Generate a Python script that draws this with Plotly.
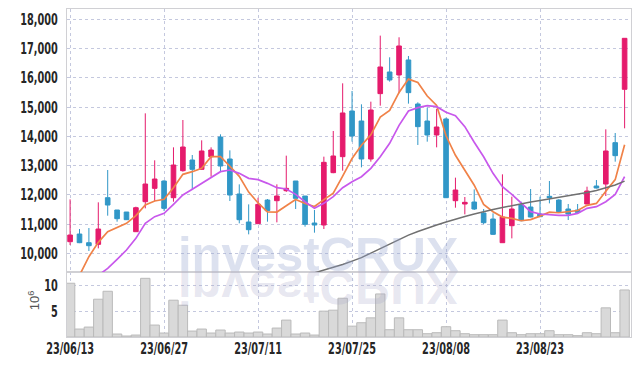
import plotly.graph_objects as go

dates = ["23/06/13", "23/06/14", "23/06/15", "23/06/16", "23/06/19", "23/06/20", "23/06/21", "23/06/22",
         "23/06/23", "23/06/26", "23/06/27", "23/06/28", "23/06/29", "23/06/30", "23/07/03", "23/07/04",
         "23/07/05", "23/07/06", "23/07/07", "23/07/10", "23/07/11", "23/07/12", "23/07/13", "23/07/14",
         "23/07/17", "23/07/18", "23/07/19", "23/07/20", "23/07/21", "23/07/24", "23/07/25", "23/07/26",
         "23/07/27", "23/07/28", "23/07/31", "23/08/01", "23/08/02", "23/08/03", "23/08/04", "23/08/07",
         "23/08/08", "23/08/09", "23/08/10", "23/08/11", "23/08/14", "23/08/16", "23/08/17", "23/08/18",
         "23/08/21", "23/08/22", "23/08/23", "23/08/24", "23/08/25", "23/08/28", "23/08/29", "23/08/30",
         "23/08/31", "23/09/01", "23/09/04", "23/09/05"]

open_ = [10399, 10661, 10365, 10308, 11903, 11482, 11413, 10741, 11766, 12222,
         12473, 11903, 12826, 13191, 12872, 13305, 13977, 13225, 12029, 11071,
         11014, 11823, 11800, 12142, 12473, 11960, 11037, 10969, 12758, 13305,
         14866, 14524, 13225, 15459, 16199, 16097, 16610, 15105, 14524, 14046,
         14593, 11800, 11687, 11755, 11379, 11174, 10365, 10946, 11652, 11584,
         11345, 11950, 11823, 11516, 11482, 11687, 12302, 12370, 13784, 15607]
high = [11846, 10832, 10866, 11744, 12849, 11482, 11413, 11595, 14786, 13180,
        12500, 13624, 14558, 13362, 13863, 13624, 14068, 13521, 12359, 11675,
        11903, 11857, 12359, 13339, 12473, 11960, 11482, 13305, 14182, 15812,
        15550, 15094, 15185, 17442, 16701, 17385, 16746, 15162, 14980, 14935,
        14638, 12587, 11926, 12188, 11516, 11368, 12701, 11937, 11766, 12199,
        11937, 12473, 11850, 11687, 11687, 12279, 12507, 14239, 14114, 17350]
low = [10285, 10350, 10080, 10171, 11288, 11083, 11140, 10741, 11538, 11789,
       11447, 11766, 12792, 12165, 12850, 12621, 12815, 11789, 11026, 10650,
       11014, 11083, 11060, 12100, 11516, 10912, 10707, 10832, 12740, 12826,
       13818, 12940, 13134, 15048, 15869, 15470, 15117, 13704, 13818, 13624,
       11903, 11561, 11333, 11482, 11000, 10630, 10365, 10513, 11100, 11230,
       11240, 11709, 11400, 11140, 11390, 11680, 12220, 11960, 13134, 14274]
close = [10627, 10365, 10262, 10832, 11652, 11185, 11151, 11561, 12370, 12541,
         11538, 13020, 13635, 12872, 13499, 13533, 12986, 11994, 11151, 10809,
         11675, 11459, 11960, 12222, 11880, 10991, 10969, 13111, 13328, 14798,
         14011, 13225, 14900, 16370, 15926, 17088, 15493, 14331, 14046, 14319,
         11903, 12165, 11744, 11516, 11048, 10650, 11242, 11516, 11117, 11242,
         11254, 11900, 11425, 11345, 11402, 12131, 12234, 13499, 13339, 17350]

ma5 = [8900, 9250, 9886, 10376, 10741, 10878, 11026, 11288, 11652, 11789,
       11850, 12245, 12701, 12792, 12906, 13305, 13305, 12977, 12633, 12095,
       11723, 11418, 11411, 11625, 11839, 11702, 11604, 11835, 12056, 12639,
       13243, 13695, 14052, 14661, 14886, 15502, 15955, 15842, 15377, 15055,
       14018, 13353, 12835, 12329, 11675, 11425, 11240, 11194, 11115, 11153,
       11274, 11406, 11388, 11433, 11465, 11641, 11707, 12122, 12521, 13711]
ma10 = [8600, 8800, 9000, 9250, 9487, 9795, 10114, 10513, 11026, 11254,
        11368, 11675, 11994, 12188, 12393, 12587, 12792, 12849, 12735, 12564,
        12519, 12393, 12245, 12199, 12017, 11766, 11538, 11709, 11937, 12245,
        12450, 12621, 12906, 13305, 13761, 14376, 14866, 14980, 15048, 15014,
        14820, 14707, 14331, 13800, 13300, 12735, 12279, 12017, 11709, 11425,
        11345, 11311, 11299, 11299, 11368, 11538, 11595, 11766, 12017, 12621]
ma60 = [None] * 25 + [
        9240, 9330, 9429, 9514, 9617, 9736, 9856, 10010, 10164, 10318,
        10471, 10625, 10745, 10864, 10967, 11070, 11172, 11258, 11343, 11429,
        11497, 11566, 11634, 11702, 11754, 11805, 11856, 11907, 11959, 12010,
        12078, 12147, 12232, 12335, 12471]

volume_m = [10.4, 1.54, 1.92, 7.31, 8.85, 0.58, 0.19, 0.38, 11.35, 2.31,
            0.77, 7.12, 6.15, 1.15, 1.54, 0.77, 1.35, 0.77, 0.96, 0.77,
            0.96, 0.58, 1.73, 3.27, 0.58, 0.77, 0.38, 5.0, 5.19, 7.5,
            2.1, 2.76, 3.7, 8.33, 1.41, 3.7, 1.41, 1.41, 0.64, 0.83,
            1.99, 1.22, 0.64, 0.45, 0.45, 0.45, 3.27, 0.83, 0.45, 0.64,
            0.64, 1.22, 0.45, 0.45, 0.26, 0.83, 0.64, 5.64, 0.83, 9.1]

tick_dates = ["23/06/13", "23/06/27", "23/07/11", "23/07/25", "23/08/08", "23/08/23"]
price_ticks = [10000, 11000, 12000, 13000, 14000, 15000, 16000, 17000, 18000]
volume_ticks = [5, 10]

RED = "rgb(229,27,108)"
BLUE = "rgb(49,151,199)"
ORANGE = "rgb(240,130,72)"
PURPLE = "rgb(200,88,236)"
GRAYLINE = "rgb(112,112,112)"
GRID = "rgb(196,200,222)"
FRAME = "rgb(208,208,212)"
TICKFONT = dict(family="DejaVu Sans, Roboto, sans-serif", size=16, color="#262626", weight="bold")

fig = go.Figure()
fig.add_trace(go.Bar(
    x=dates, y=volume_m, xaxis="x", yaxis="y",
    marker=dict(color="rgb(217,217,217)", line=dict(color="rgb(186,186,186)", width=1)),
    hoverinfo="skip"))
fig.add_trace(go.Candlestick(
    x=dates, open=open_, high=high, low=low, close=close, xaxis="x2", yaxis="y2",
    increasing=dict(line=dict(color=RED, width=1), fillcolor=RED),
    decreasing=dict(line=dict(color=BLUE, width=1), fillcolor=BLUE),
    hoverinfo="skip"))
fig.add_trace(go.Scatter(x=dates, y=ma5, mode="lines", xaxis="x2", yaxis="y2",
                         line=dict(color=ORANGE, width=1.7), hoverinfo="skip"))
fig.add_trace(go.Scatter(x=dates, y=ma10, mode="lines", xaxis="x2", yaxis="y2",
                         line=dict(color=PURPLE, width=1.7), hoverinfo="skip"))
fig.add_trace(go.Scatter(x=dates, y=ma60, mode="lines", xaxis="x2", yaxis="y2",
                         line=dict(color=GRAYLINE, width=1.5), hoverinfo="skip"))

xrange = [-0.33, 59.68]
common_x = dict(type="category", range=xrange, tickvals=tick_dates, ticktext=tick_dates,
                showgrid=True, gridcolor=GRID, griddash="dot", gridwidth=1,
                showline=True, linecolor=FRAME, linewidth=1, mirror=True, ticks="",
                zeroline=False, fixedrange=True, automargin=False)

fig.update_layout(
    width=639, height=366,
    margin=dict(l=67, r=8, t=9, b=29),
    paper_bgcolor="white", plot_bgcolor="white",
    showlegend=False, bargap=0,
    xaxis=dict(**common_x, domain=[0, 1], anchor="y", tickfont=TICKFONT, ticklabelstandoff=0),
    xaxis2=dict(**common_x, domain=[0, 1], anchor="y2", showticklabels=False,
                rangeslider=dict(visible=False)),
    yaxis=dict(domain=[0, 0.197], range=[0, 12.5], tickvals=volume_ticks, ticktext=["5", "10"],
               showgrid=True, gridcolor=GRID, griddash="dot", zeroline=False, automargin=False,
               showline=True, linecolor=FRAME, mirror=True, ticks="", tickfont=TICKFONT,
               ticklabelstandoff=5),
    yaxis2=dict(domain=[0.197, 1], range=[9350, 18352], tickvals=price_ticks, tickformat=",",
                showgrid=True, gridcolor=GRID, griddash="dot", zeroline=False, automargin=False,
                showline=True, linecolor=FRAME, mirror=True, ticks="", tickfont=TICKFONT,
                ticklabelstandoff=5),
    annotations=[
        dict(text="investCRUX", xref="paper", yref="paper", x=0.446, y=0.254,
             xanchor="center", yanchor="middle", showarrow=False,
             font=dict(family="Liberation Sans, Arial, sans-serif", size=49, weight="bold",
                       color="rgba(150,165,205,0.33)")),
        dict(text="10<sup>6</sup>", xref="paper", yref="paper", x=-0.0585, y=0.112,
             xanchor="center", yanchor="middle", showarrow=False, textangle=-90,
             font=dict(family="Liberation Sans, DejaVu Sans, sans-serif", size=13, color="#555555")),
    ],
)

post_js = """
document.documentElement.style.margin = '0';
document.body.style.margin = '0';
document.body.style.padding = '0';
var gd = document.getElementById('{plot_id}');
function addReflection(){
  gd.querySelectorAll('.wm-reflect').forEach(function(n){ n.remove(); });
  gd.querySelectorAll('text.annotation-text').forEach(function(t){
    if (t.textContent === 'investCRUX') {
      var y = parseFloat(t.getAttribute('y'));
      var c = t.cloneNode(true);
      c.setAttribute('class', 'wm-reflect');
      c.setAttribute('transform', 'translate(0,' + (2 * y) + ') scale(1,-1)');
      c.style.fill = 'rgb(165,165,200)';
      c.style.fillOpacity = '0.27';
      t.parentNode.insertBefore(c, t);
    }
  });
}
function squeeze(){
  gd.querySelectorAll('g.xtick text, g.ytick text, g.y2tick text').forEach(function(t){
    if (t.getAttribute('data-sq')) { return; }
    var ax = parseFloat(t.getAttribute('x')) || 0;
    var dy = t.parentNode.classList.contains('xtick') ? -3 : 0;
    var tr = t.getAttribute('transform') || '';
    t.setAttribute('transform', tr + ' translate(' + ax + ',' + dy + ') scale(0.61,1) translate(' + (-ax) + ',0)');
    t.setAttribute('data-sq', '1');
  });
}
function decorate(){ addReflection(); squeeze(); }
decorate();
if (gd.on) { gd.on('plotly_afterplot', decorate); }
"""

fig.write_html("out.html", config={"displayModeBar": False, "staticPlot": True}, post_script=post_js)
